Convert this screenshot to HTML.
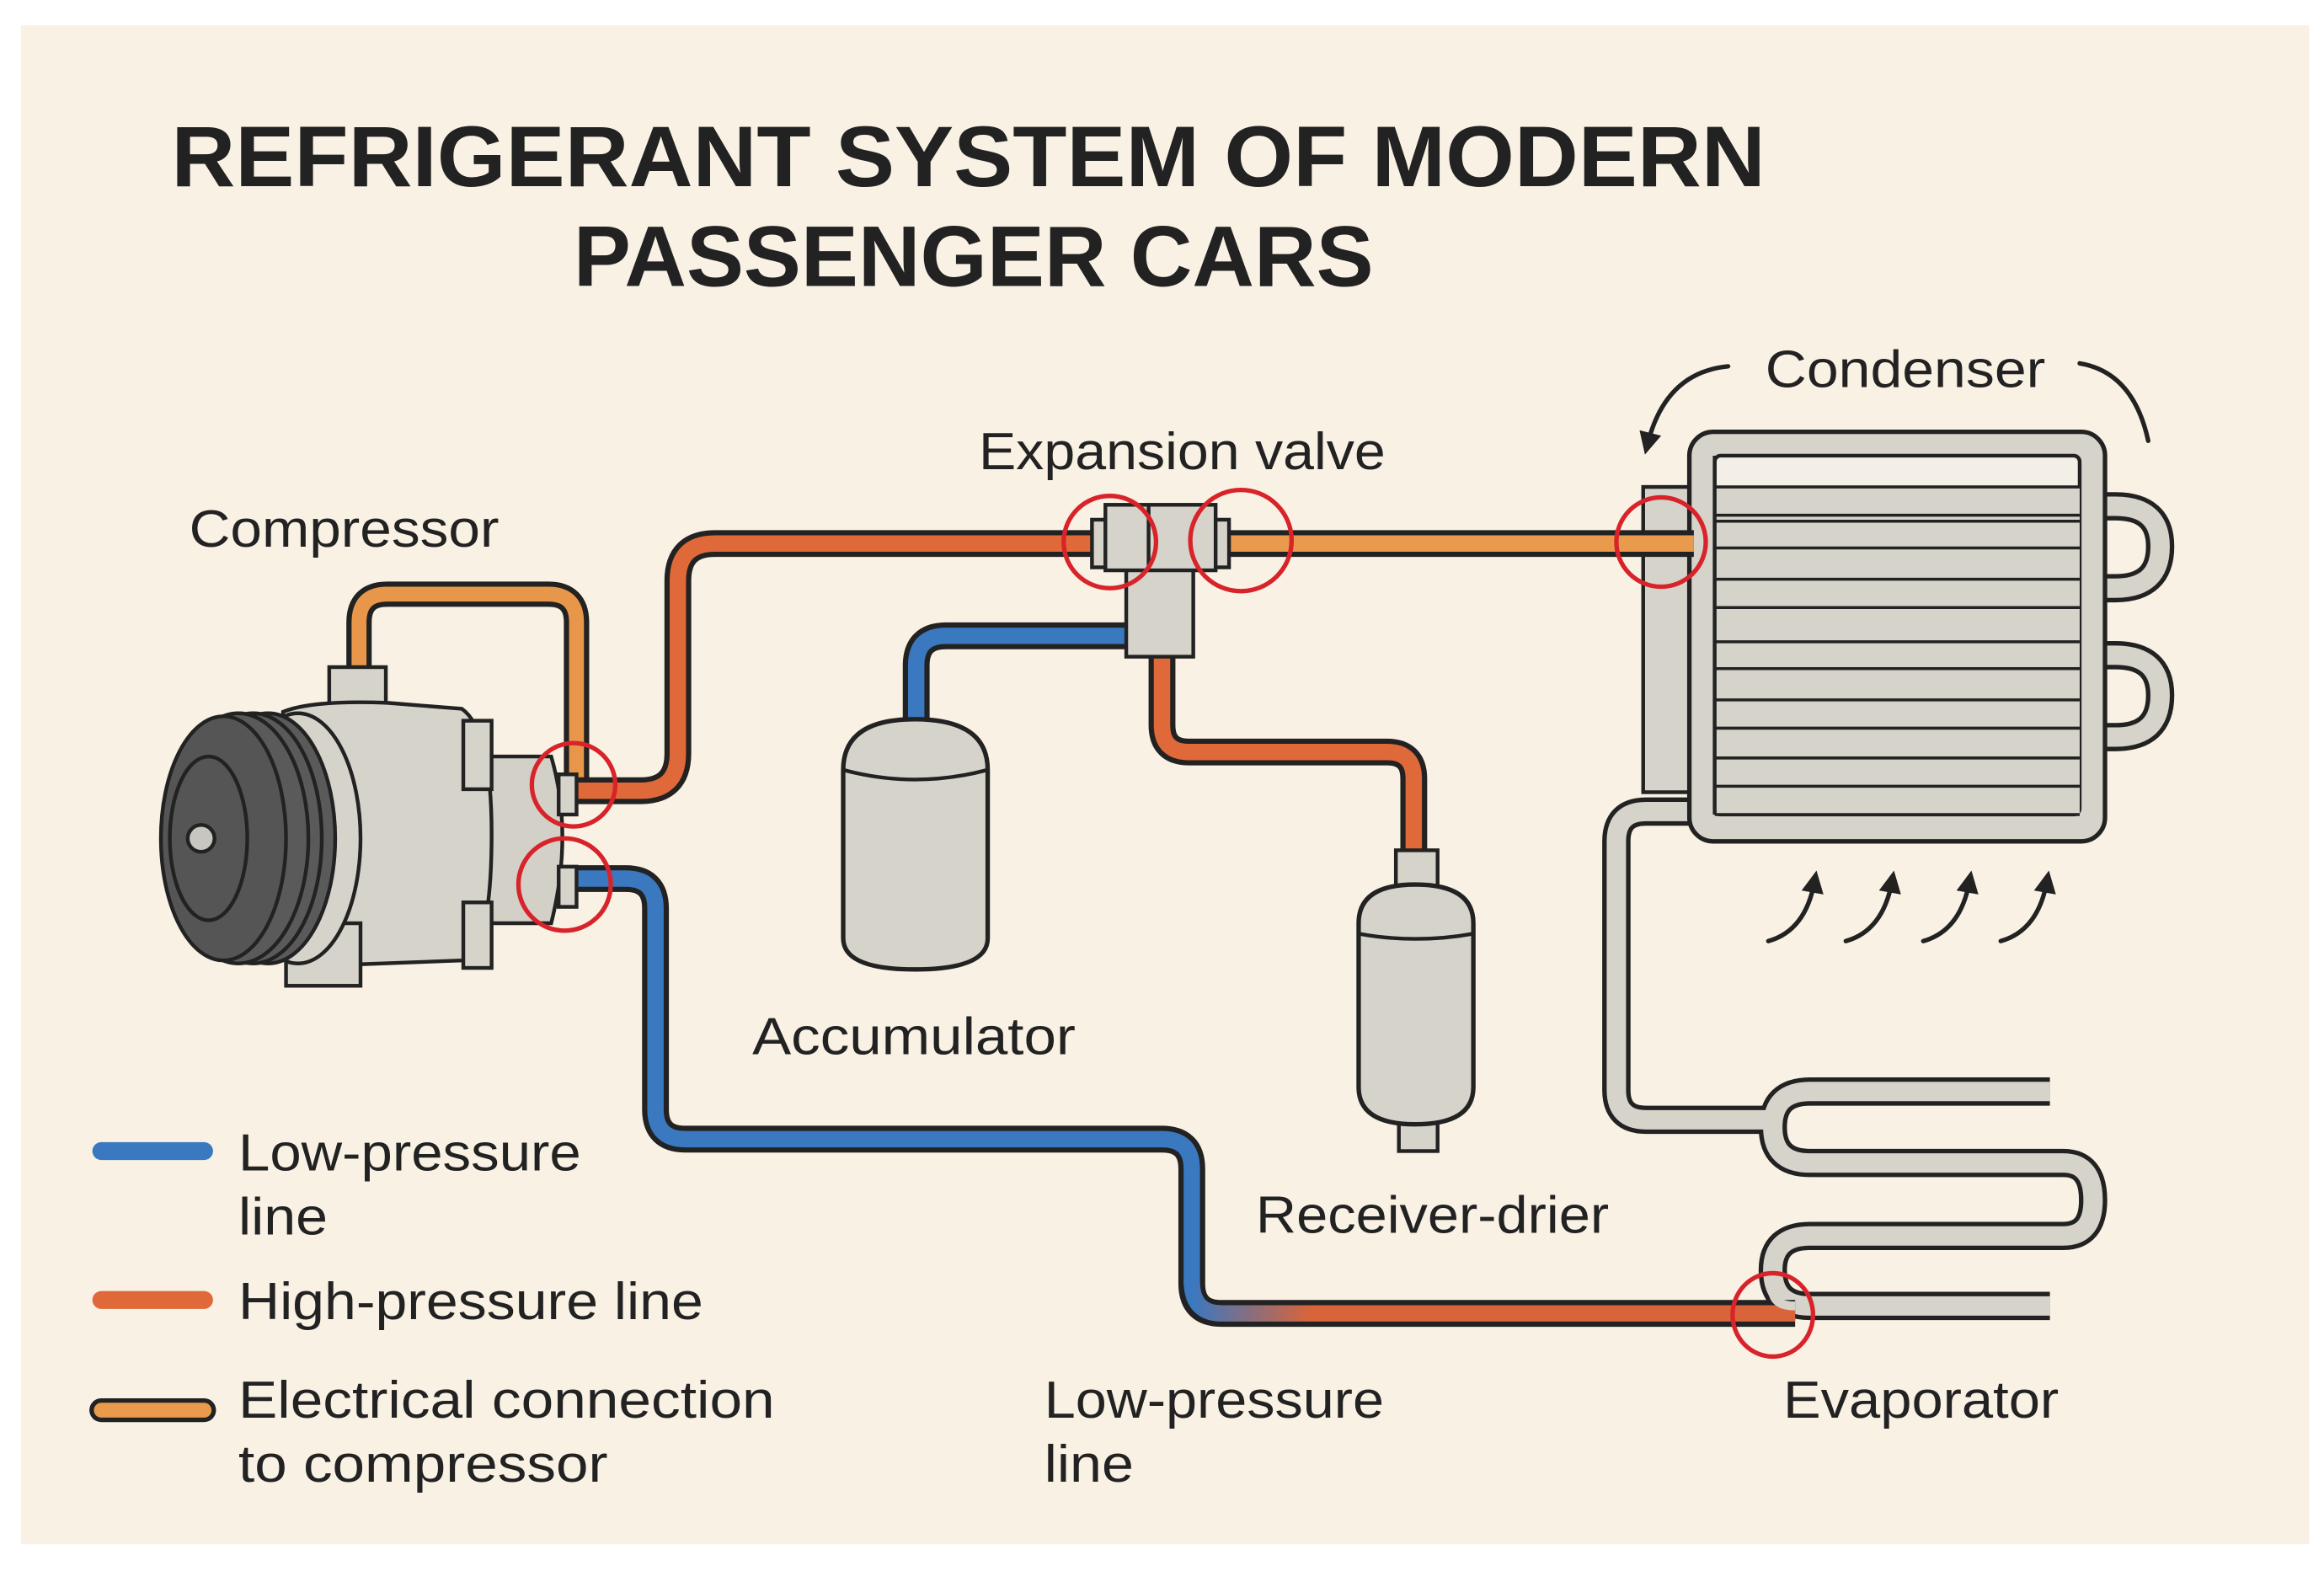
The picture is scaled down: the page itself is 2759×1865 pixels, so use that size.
<!DOCTYPE html>
<html><head><meta charset="utf-8"><style>
html,body{margin:0;padding:0;background:#fff;}
svg{display:block;}
text{font-family:"Liberation Sans",sans-serif;fill:#222;}
</style></head><body>
<svg width="2759" height="1865" viewBox="0 0 1560 1055" preserveAspectRatio="none" xmlns="http://www.w3.org/2000/svg">
<defs>
<linearGradient id="g1" x1="800" y1="0" x2="1200" y2="0" gradientUnits="userSpaceOnUse">
<stop offset="0" stop-color="#3a78c0"/><stop offset="0.2" stop-color="#d9643a"/><stop offset="1" stop-color="#d9643a"/>
</linearGradient>
<marker id="ah" viewBox="0 0 10 10" refX="5" refY="5" markerWidth="5" markerHeight="5" orient="auto"><path d="M0,0 L10,5 L0,10 Z" fill="#222"/></marker>
</defs>
<rect x="0" y="0" width="1560" height="1055" fill="#fff"/>
<rect x="14" y="17" width="1536" height="1020" fill="#f8f1e4"/>

<text x="115" y="125" font-size="58" font-weight="bold" textLength="1070" lengthAdjust="spacingAndGlyphs">REFRIGERANT SYSTEM OF MODERN</text>
<text x="385" y="192" font-size="58" font-weight="bold" textLength="537" lengthAdjust="spacingAndGlyphs">PASSENGER CARS</text>

<g font-size="35">
<text x="1185" y="260" textLength="188" lengthAdjust="spacingAndGlyphs">Condenser</text>
<text x="657" y="315" textLength="273" lengthAdjust="spacingAndGlyphs">Expansion valve</text>
<text x="127" y="367" textLength="208" lengthAdjust="spacingAndGlyphs">Compressor</text>
<text x="505" y="708" textLength="217" lengthAdjust="spacingAndGlyphs">Accumulator</text>
<text x="843" y="828" textLength="237" lengthAdjust="spacingAndGlyphs">Receiver-drier</text>
<text x="160" y="786" textLength="230" lengthAdjust="spacingAndGlyphs">Low-pressure</text>
<text x="160" y="829" textLength="60" lengthAdjust="spacingAndGlyphs">line</text>
<text x="160" y="886" textLength="312" lengthAdjust="spacingAndGlyphs">High-pressure line</text>
<text x="160" y="952" textLength="360" lengthAdjust="spacingAndGlyphs">Electrical connection</text>
<text x="160" y="995" textLength="248" lengthAdjust="spacingAndGlyphs">to compressor</text>
<text x="701" y="952" textLength="228" lengthAdjust="spacingAndGlyphs">Low-pressure</text>
<text x="701" y="995" textLength="60" lengthAdjust="spacingAndGlyphs">line</text>
<text x="1197" y="952" textLength="185" lengthAdjust="spacingAndGlyphs">Evaporator</text>
</g>

<!-- condenser label arrows -->
<g fill="none" stroke="#222" stroke-width="3" stroke-linecap="round">
<path d="M1160,246 Q1118,250 1106,298" marker-end="url(#ah)"/>
<path d="M1396,244 Q1432,250 1442,296"/>
<path d="M1187,632 Q1212,625 1218,592" marker-end="url(#ah)"/>
<path d="M1239,632 Q1264,625 1270,592" marker-end="url(#ah)"/>
<path d="M1291,632 Q1316,625 1322,592" marker-end="url(#ah)"/>
<path d="M1343,632 Q1368,625 1374,592" marker-end="url(#ah)"/>
</g>

<!-- gray tubes (condenser -> evaporator) -->
<g fill="none" stroke-linecap="butt" stroke-linejoin="round">
<path d="M1134,545 H1105 Q1085,545 1085,565 V732 Q1085,752 1105,752 H1195" stroke="#222" stroke-width="19"/>
<path d="M1376,733 H1215 Q1190,733 1190,757 Q1190,781 1215,781 H1385 Q1405,781 1405,806 Q1405,830 1385,830 H1215 Q1190,830 1190,853 Q1190,877 1215,877 H1376" stroke="#222" stroke-width="19"/>
<path d="M1134,545 H1105 Q1085,545 1085,565 V732 Q1085,752 1105,752 H1195" stroke="#d6d3cb" stroke-width="13"/>
<path d="M1376,733 H1215 Q1190,733 1190,757 Q1190,781 1215,781 H1385 Q1405,781 1405,806 Q1405,830 1385,830 H1215 Q1190,830 1190,853 Q1190,877 1215,877 H1376" stroke="#d6d3cb" stroke-width="13"/>
<!-- condenser loops -->
<path d="M1410,340 H1420 Q1450,340 1450,367 Q1450,395 1420,395 H1410" stroke="#222" stroke-width="19"/>
<path d="M1410,340 H1420 Q1450,340 1450,367 Q1450,395 1420,395 H1410" stroke="#d6d3cb" stroke-width="13"/>
<path d="M1410,440 H1420 Q1450,440 1450,467 Q1450,495 1420,495 H1410" stroke="#222" stroke-width="19"/>
<path d="M1410,440 H1420 Q1450,440 1450,467 Q1450,495 1420,495 H1410" stroke="#d6d3cb" stroke-width="13"/>
</g>

<!-- condenser -->
<rect x="1103" y="327" width="34" height="205" fill="#d6d3cb" stroke="#222" stroke-width="2.5"/>
<rect x="1134" y="290" width="279" height="275" rx="16" fill="#d6d3cb" stroke="#222" stroke-width="3"/>
<rect x="1151" y="306" width="245" height="241" rx="4" fill="#f4efe6" stroke="#222" stroke-width="2.5"/>
<rect x="1151" y="327" width="245" height="220" fill="#d6d3cb"/>
<line x1="1151" y1="306" x2="1151" y2="547" stroke="#222" stroke-width="2.5"/>
<g stroke="#222" stroke-width="2">
<line x1="1151" y1="327" x2="1396" y2="327"/><line x1="1151" y1="346" x2="1396" y2="346"/>
<line x1="1151" y1="350" x2="1396" y2="350"/><line x1="1151" y1="368" x2="1396" y2="368"/>
<line x1="1151" y1="389" x2="1396" y2="389"/><line x1="1151" y1="408" x2="1396" y2="408"/>
<line x1="1151" y1="431" x2="1396" y2="431"/><line x1="1151" y1="449" x2="1396" y2="449"/>
<line x1="1151" y1="470" x2="1396" y2="470"/><line x1="1151" y1="489" x2="1396" y2="489"/>
<line x1="1151" y1="509" x2="1396" y2="509"/><line x1="1151" y1="528" x2="1396" y2="528"/>
<line x1="1151" y1="547" x2="1396" y2="547"/>
</g>

<!-- pipes -->
<g fill="none" stroke-linejoin="round">
<!-- electrical -->
<path d="M241,452 V418 Q241,399 260,399 H368 Q387,399 387,418 V524" stroke="#222" stroke-width="17"/>
<path d="M241,452 V418 Q241,399 260,399 H368 Q387,399 387,418 V524" stroke="#e8974a" stroke-width="10"/>
<!-- high pressure compressor -> valve -->
<path d="M385,531 H430 Q455,531 455,506 V390 Q455,365 480,365 H735" stroke="#222" stroke-width="18"/>
<path d="M385,531 H430 Q455,531 455,506 V390 Q455,365 480,365 H735" stroke="#e0693a" stroke-width="11"/>
<!-- valve -> condenser -->
<path d="M820,365 H1137" stroke="#222" stroke-width="18"/>
<path d="M820,365 H1137" stroke="#e99a4c" stroke-width="11"/>
<!-- valve -> receiver -->
<path d="M780,440 V487 Q780,505 798,505 H931 Q949,505 949,523 V572" stroke="#222" stroke-width="18"/>
<path d="M780,440 V487 Q780,505 798,505 H931 Q949,505 949,523 V572" stroke="#e0693a" stroke-width="11"/>
<!-- blue valve -> accumulator -->
<path d="M757,427 H635 Q615,427 615,447 V490" stroke="#222" stroke-width="18"/>
<path d="M757,427 H635 Q615,427 615,447 V490" stroke="#3a78c0" stroke-width="11"/>
<!-- low pressure from compressor to evaporator -->
<path d="M385,590 H420 Q440,590 440,610 V745 Q440,765 460,765 H780 Q800,765 800,785 V862 Q800,882 820,882 H1205" stroke="#222" stroke-width="18"/>
<path d="M385,590 H420 Q440,590 440,610 V745 Q440,765 460,765 H780 Q800,765 800,785 V862" stroke="#3a78c0" stroke-width="11"/>
<path d="M800,860 Q800,882 820,882 H1205" stroke="url(#g1)" stroke-width="11"/>
</g>
<path d="M1190,866 Q1190,877 1205,877" fill="none" stroke="#d6d3cb" stroke-width="6"/>

<!-- expansion valve -->
<g fill="#d6d3cb" stroke="#222" stroke-width="2.5">
<rect x="756" y="380" width="45" height="61"/>
<rect x="733" y="349" width="12" height="32"/>
<rect x="814" y="349" width="11" height="32"/>
<rect x="742" y="339" width="74" height="44"/>
<line x1="771" y1="339" x2="771" y2="383"/>
</g>

<!-- accumulator -->
<path d="M566,517 Q566,483 614,483 Q663,483 663,517 V630 Q663,651 614,651 Q566,651 566,630 Z" fill="#d6d3cb" stroke="#222" stroke-width="3"/>
<path d="M566,517 Q614,530 663,517" fill="none" stroke="#222" stroke-width="2.5"/>

<!-- receiver-drier -->
<rect x="937" y="571" width="28" height="25" fill="#d6d3cb" stroke="#222" stroke-width="2.5"/>
<rect x="939" y="750" width="26" height="23" fill="#d6d3cb" stroke="#222" stroke-width="2.5"/>
<path d="M912,620 Q912,594 950,594 Q989,594 989,620 V730 Q989,755 950,755 Q912,755 912,730 Z" fill="#d6d3cb" stroke="#222" stroke-width="3"/>
<path d="M912,627 Q950,634 989,627" fill="none" stroke="#222" stroke-width="2.5"/>

<!-- compressor -->
<g stroke="#222" stroke-width="2.5">
<rect x="221" y="448" width="38" height="30" fill="#d6d3cb"/>
<path d="M327,508 H370 Q385,560 370,620 H327 Z" fill="#d3d0c8"/>
<path d="M190,478 Q210,470 260,472 L310,476 Q330,490 330,560 Q330,640 310,645 L230,648 Q200,648 190,640 Z" fill="#d6d3cb"/>
<rect x="192" y="620" width="50" height="42" fill="#d6d3cb"/>
<rect x="311" y="484" width="19" height="46" fill="#d6d3cb"/>
<rect x="311" y="606" width="19" height="44" fill="#d6d3cb"/>
<rect x="375" y="520" width="12" height="27" fill="#d6d3cb"/>
<rect x="375" y="582" width="12" height="27" fill="#d6d3cb"/>
<ellipse cx="200" cy="563" rx="42" ry="84" fill="#d6d3cb"/>
<ellipse cx="180" cy="563" rx="45" ry="84" fill="#5a5a5a"/>
<ellipse cx="170" cy="563" rx="46" ry="84" fill="#5a5a5a"/>
<ellipse cx="160" cy="563" rx="47" ry="84" fill="#5a5a5a"/>
<ellipse cx="150" cy="563" rx="42" ry="82" fill="#555"/>
<ellipse cx="140" cy="563" rx="26" ry="55" fill="#555"/>
<circle cx="135" cy="563" r="9" fill="#c8c6c0"/>
</g>

<!-- red circles -->
<g fill="none" stroke="#d8232a" stroke-width="3">
<circle cx="745" cy="364" r="31"/>
<circle cx="833" cy="363" r="34"/>
<circle cx="1115" cy="364" r="30"/>
<circle cx="385" cy="527" r="28"/>
<circle cx="379" cy="594" r="31"/>
<ellipse cx="1190" cy="883" rx="27" ry="28"/>
</g>

<!-- legend swatches -->
<g stroke-linecap="round">
<line x1="68" y1="773" x2="137" y2="773" stroke="#3a78c0" stroke-width="12"/>
<line x1="68" y1="873" x2="137" y2="873" stroke="#e0693a" stroke-width="12"/>
<line x1="68" y1="947" x2="137" y2="947" stroke="#222" stroke-width="16"/>
<line x1="68" y1="947" x2="137" y2="947" stroke="#e99a4c" stroke-width="10"/>
</g>
</svg>
</body></html>
